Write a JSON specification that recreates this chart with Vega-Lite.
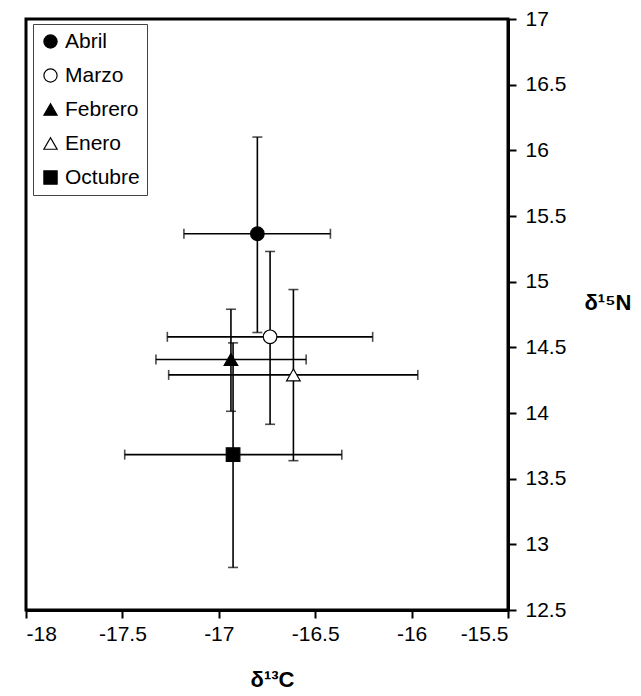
{
  "$schema": "https://vega.github.io/schema/vega-lite/v6.json",
  "width": 482,
  "height": 591,
  "autosize": {"type": "none"},
  "padding": {"left": 26, "top": 19, "right": 133, "bottom": 86},
  "background": "white",
  "config": {
    "font": "Liberation Sans",
    "view": {"stroke": "black", "strokeWidth": 3},
    "axis": {"grid": false, "domainColor": "black", "domainWidth": 3, "tickColor": "black", "tickWidth": 2, "tickSize": 8, "labelColor": "black", "labelFontSize": 21, "labelFont": "Liberation Sans", "titleColor": "black", "titleFont": "Liberation Sans", "titleFontSize": 22, "titleFontWeight": "bold"},
    "legend": {"title": null, "orient": "none", "legendX": 7, "legendY": 5, "padding": 7, "strokeColor": "#444", "fillColor": "white", "labelFontSize": 21, "labelColor": "black", "labelFont": "Liberation Sans", "symbolSize": 175, "symbolStrokeWidth": 1.2, "rowPadding": 12, "labelOffset": 4, "symbolOffset": 0}
  },
  "data": {"values": [
    {"mes": "Abril", "x": -16.80, "y": 15.365, "xlo": -17.181, "xhi": -16.421, "ylo": 14.613, "yhi": 16.101},
    {"mes": "Marzo", "x": -16.734, "y": 14.580, "xlo": -17.267, "xhi": -16.202, "ylo": 13.914, "yhi": 15.230},
    {"mes": "Febrero", "x": -16.937, "y": 14.407, "xlo": -17.326, "xhi": -16.547, "ylo": 14.013, "yhi": 14.790},
    {"mes": "Enero", "x": -16.613, "y": 14.290, "xlo": -17.260, "xhi": -15.968, "ylo": 13.637, "yhi": 14.940},
    {"mes": "Octubre", "x": -16.926, "y": 13.683, "xlo": -17.488, "xhi": -16.362, "ylo": 12.824, "yhi": 14.534}
  ]},
  "layer": [
    {
      "mark": {"type": "rule", "color": "black", "strokeWidth": 1.6},
      "encoding": {
        "x": {"field": "xlo", "type": "quantitative", "scale": {"domain": [-18, -15.5], "nice": false, "zero": false},
          "axis": {"orient": "bottom", "values": [-18, -17.5, -17, -16.5, -16, -15.5], "labelExpr": "'' + datum.value", "labelPadding": 5, "title": "δ¹³C", "titleBaseline": "alphabetic", "titleY": 76, "titleX": 246}},
        "x2": {"field": "xhi"},
        "y": {"field": "y", "type": "quantitative", "scale": {"domain": [12.5, 17], "nice": false, "zero": false},
          "axis": {"orient": "right", "values": [12.5, 13, 13.5, 14, 14.5, 15, 15.5, 16, 16.5, 17], "labelExpr": "'' + datum.value", "labelPadding": 9, "title": "δ¹⁵N", "titleAngle": 0, "titleAlign": "left", "titleBaseline": "middle", "titleX": 76, "titleY": 283}}
      }
    },
    {
      "mark": {"type": "rule", "color": "black", "strokeWidth": 1.6},
      "encoding": {
        "x": {"field": "x", "type": "quantitative"},
        "y": {"field": "ylo", "type": "quantitative"},
        "y2": {"field": "yhi"}
      }
    },
    {
      "mark": {"type": "tick", "orient": "vertical", "color": "black", "size": 10, "thickness": 1.6},
      "encoding": {"x": {"field": "xlo", "type": "quantitative"}, "y": {"field": "y", "type": "quantitative"}}
    },
    {
      "mark": {"type": "tick", "orient": "vertical", "color": "black", "size": 10, "thickness": 1.6},
      "encoding": {"x": {"field": "xhi", "type": "quantitative"}, "y": {"field": "y", "type": "quantitative"}}
    },
    {
      "mark": {"type": "tick", "orient": "horizontal", "color": "black", "size": 10, "thickness": 1.6},
      "encoding": {"x": {"field": "x", "type": "quantitative"}, "y": {"field": "ylo", "type": "quantitative"}}
    },
    {
      "mark": {"type": "tick", "orient": "horizontal", "color": "black", "size": 10, "thickness": 1.6},
      "encoding": {"x": {"field": "x", "type": "quantitative"}, "y": {"field": "yhi", "type": "quantitative"}}
    },
    {
      "mark": {"type": "point", "filled": false, "opacity": 1, "strokeWidth": 1.2, "size": 185},
      "encoding": {
        "x": {"field": "x", "type": "quantitative"},
        "y": {"field": "y", "type": "quantitative"},
        "shape": {"field": "mes", "type": "nominal", "scale": {"domain": ["Abril", "Marzo", "Febrero", "Enero", "Octubre"], "range": ["circle", "circle", "triangle-up", "triangle-up", "square"]}},
        "fill": {"field": "mes", "type": "nominal", "scale": {"domain": ["Abril", "Marzo", "Febrero", "Enero", "Octubre"], "range": ["black", "white", "black", "white", "black"]}},
        "stroke": {"field": "mes", "type": "nominal", "scale": {"domain": ["Abril", "Marzo", "Febrero", "Enero", "Octubre"], "range": ["black", "black", "black", "black", "black"]}}
      }
    }
  ]
}
